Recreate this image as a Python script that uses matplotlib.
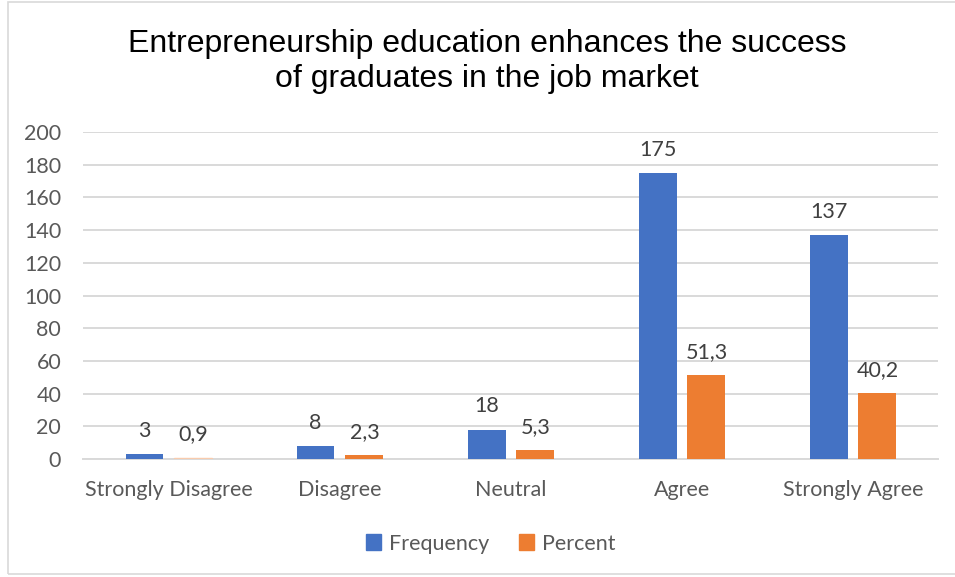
import matplotlib
matplotlib.use("Agg")
import matplotlib.pyplot as plt
from matplotlib.patches import Rectangle, Patch
import numpy as np

categories = ["Strongly Disagree", "Disagree", "Neutral", "Agree", "Strongly Agree"]
frequency = [3, 8, 18, 175, 137]
percent = [0.9, 2.3, 5.3, 51.3, 40.2]
y_ticks = [0, 20, 40, 60, 80, 100, 120, 140, 160, 180, 200]

blue = "#4472C4"
orange = "#ED7D31"
text_gray = "#595959"
label_gray = "#404040"

fig = plt.figure(figsize=(9.55, 5.77), dpi=100)
ax = fig.add_axes([0.0874, 0.2045, 0.8953, 0.5667])

x = np.arange(len(categories))
w = 0.222
off = 0.143
bf = ax.bar(x - off, frequency, w, color=blue, zorder=3)
bp = ax.bar(x + off, percent, w, color=orange, zorder=3)
bp[0].set_color("#F8CBAD")

def fmt(v):
    return f"{v:g}".replace(".", ",")

for rect, v in zip(list(bf) + list(bp), frequency + percent):
    ax.text(rect.get_x() + rect.get_width() / 2, v + 8, fmt(v),
            ha="center", va="bottom", fontsize=15.5, color=label_gray, family="Lato")

ax.set_xlim(-0.5, len(categories) - 0.5)
ax.set_ylim(0, 200)
ax.set_yticks(y_ticks)
ax.set_xticks(x)
ax.set_xticklabels(categories)
ax.grid(axis="y", color="#D9D9D9", linewidth=1.4, zorder=0)
for s in ["top", "right", "left"]:
    ax.spines[s].set_visible(False)
ax.spines["bottom"].set_color("#D9D9D9")
ax.spines["bottom"].set_linewidth(1.4)
ax.tick_params(axis="both", length=0, labelsize=15.5, labelcolor=text_gray)
ax.tick_params(axis="x", pad=15)
ax.tick_params(axis="y", pad=16)
for lbl in ax.get_xticklabels() + ax.get_yticklabels():
    lbl.set_family("Lato")

fig.text(0.51, 0.893, "Entrepreneurship education enhances the success\nof graduates in the job market",
         ha="center", va="center", fontsize=23, family="Liberation Sans", color="#000000",
         linespacing=1.2)

handles = [Patch(color=blue), Patch(color=orange)]
leg = fig.legend(handles=handles, labels=["Frequency", "Percent"], loc="center",
                 bbox_to_anchor=(0.514, 0.058), ncol=2, frameon=False,
                 prop={"family": "Lato", "size": 15.5}, handlelength=0.7, handleheight=0.7,
                 columnspacing=1.4, handletextpad=0.35)
for t in leg.get_texts():
    t.set_color(text_gray)

fig.patches.append(Rectangle((7.5 / 955, 3 / 577), 1.0, 572 / 577, transform=fig.transFigure,
                             fill=False, edgecolor="#D9D9D9", linewidth=1.2))

fig.savefig("out.png", dpi=100)
